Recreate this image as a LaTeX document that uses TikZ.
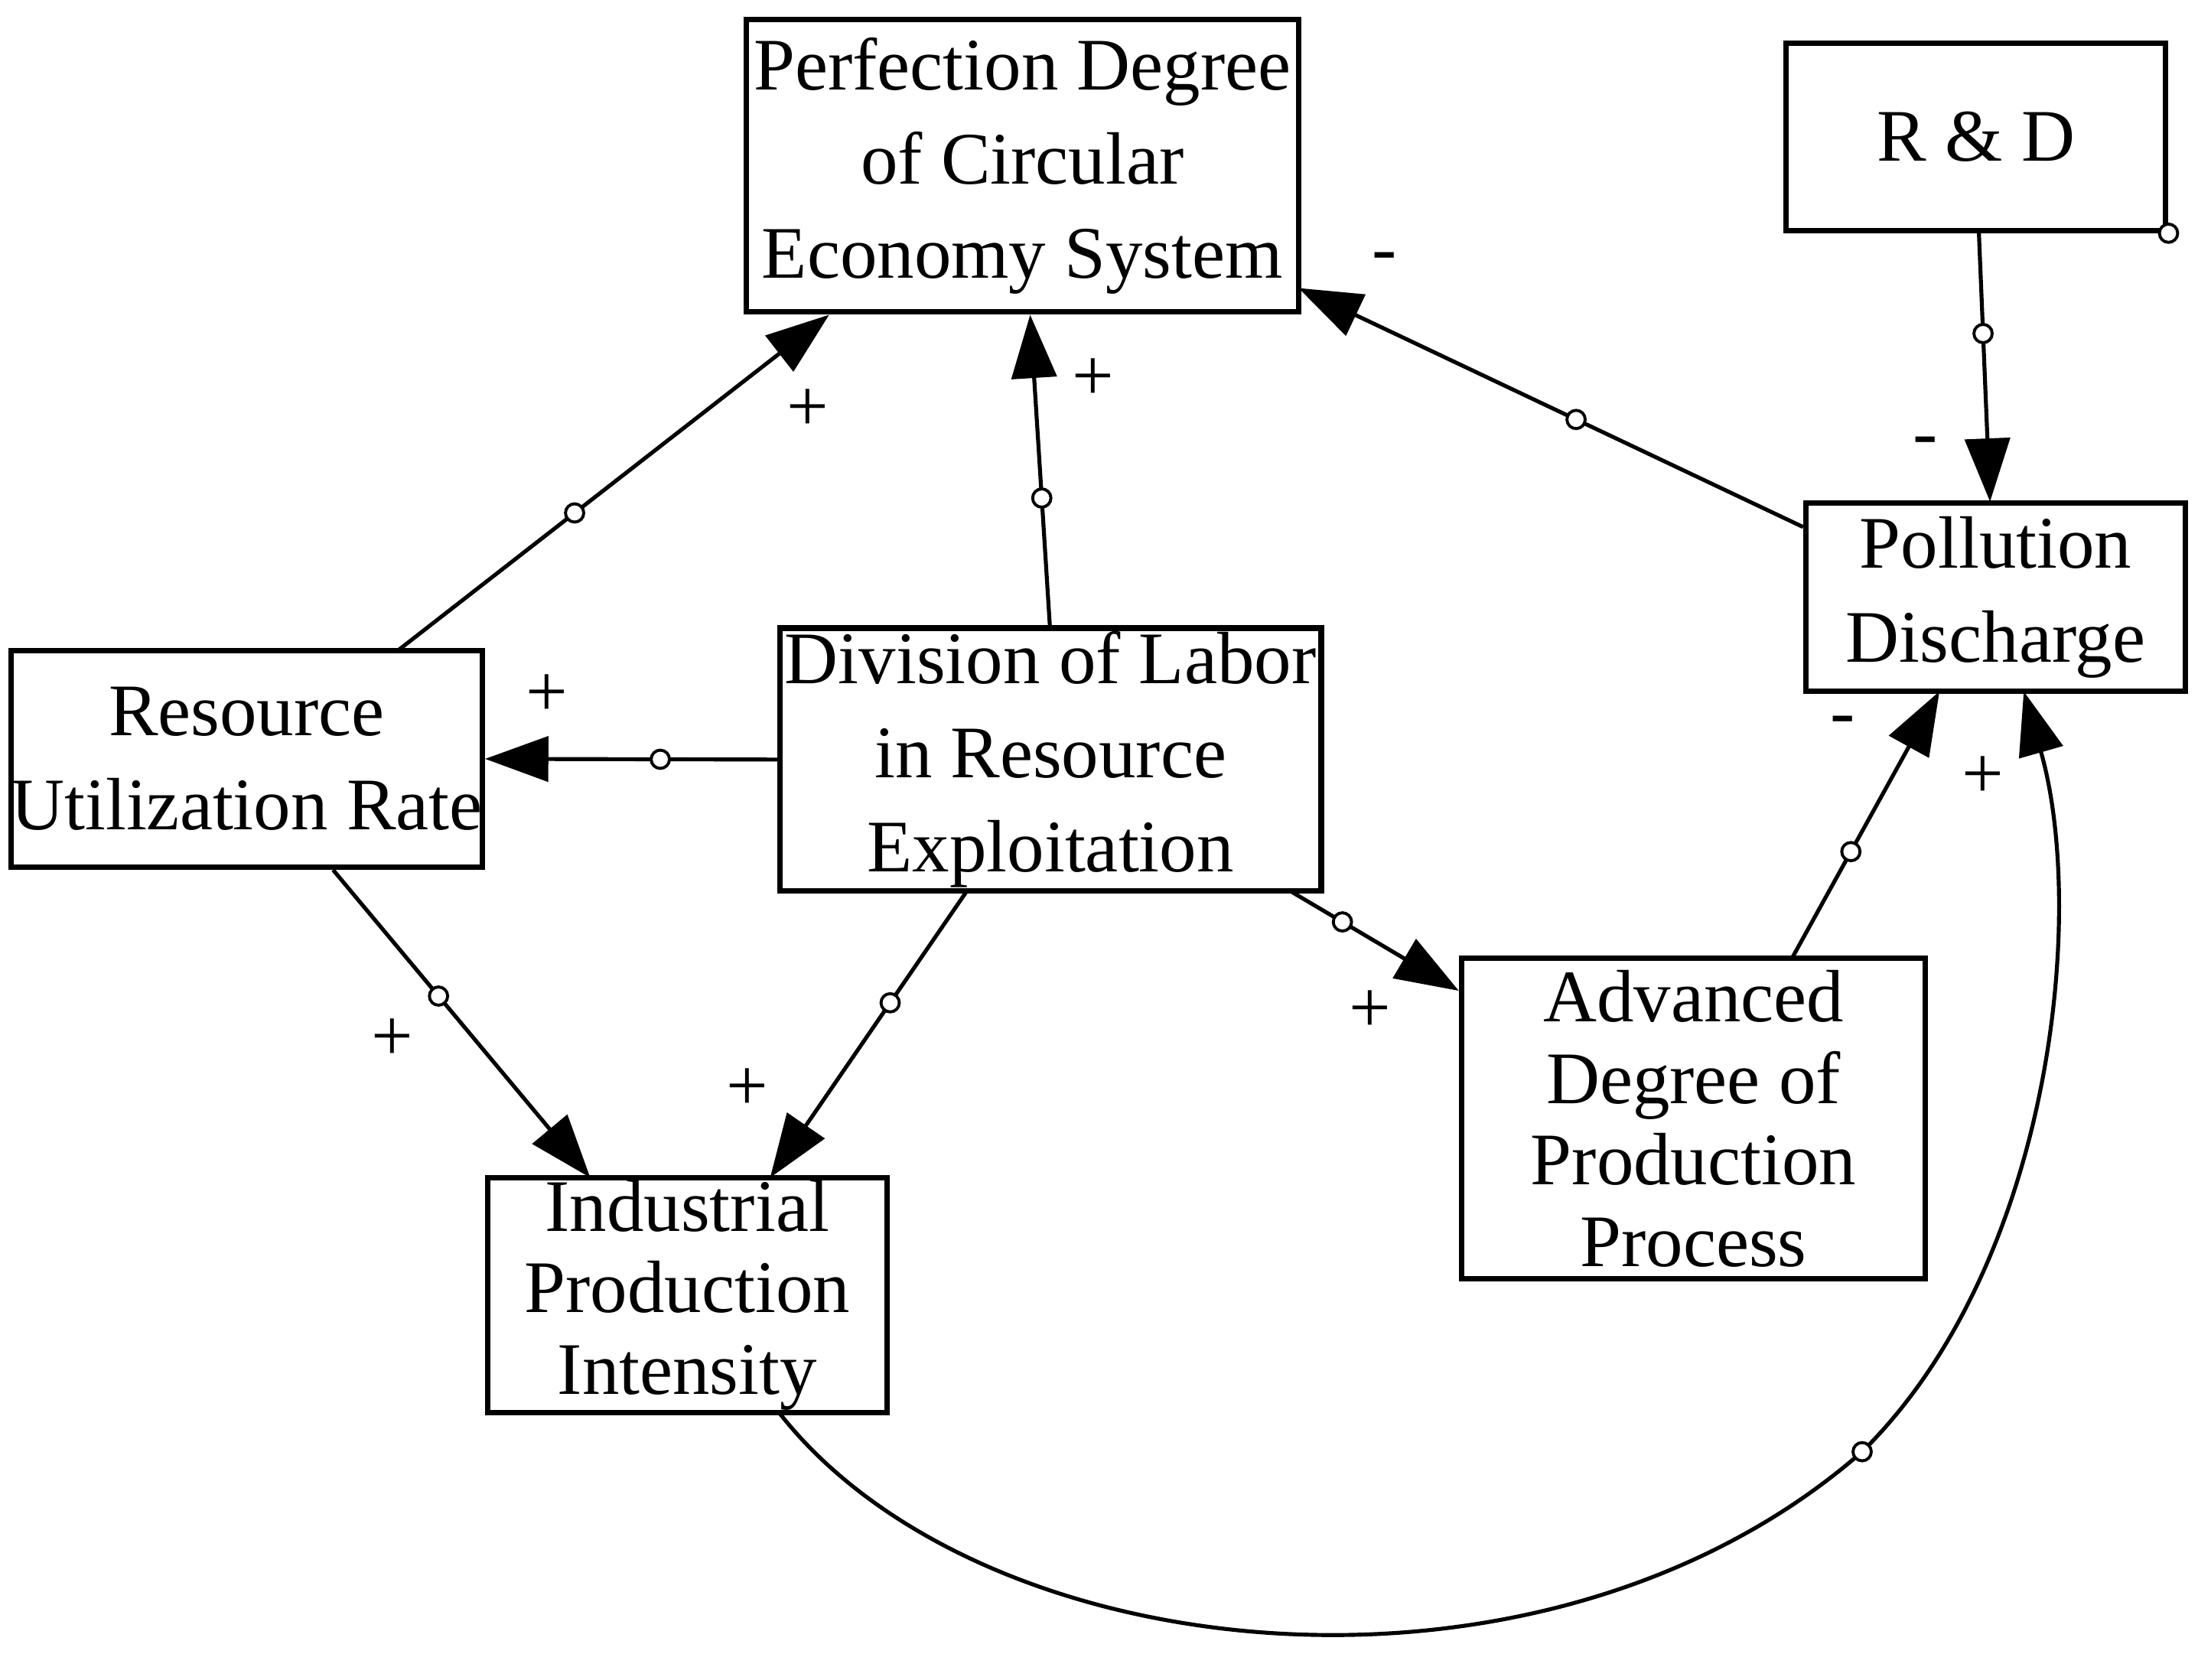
\documentclass[tikz,border=0pt]{standalone}
\usepackage{fontspec}
\setmainfont{Liberation Serif}
\usetikzlibrary{arrows.meta}
\begin{document}
\begin{tikzpicture}[x=0.01cm,y=-0.01cm,
  box/.style={draw,line width=1.1pt,align=center,inner sep=0pt,font=\fontsize{15}{19}\selectfont},
  arr/.style={line width=0.8pt,-{Triangle[length=0.45cm,width=0.32cm]}},
  dot/.style={circle,draw,fill=white,inner sep=0pt,minimum size=0.13cm,line width=0.6pt},
  sgn/.style={font=\fontsize{15}{19}\selectfont}]
\useasboundingbox (0,0) rectangle (1564,1195);
\node[box,minimum width=3.93cm,minimum height=2.08cm] (perf) at (727.5,118) {Perfection Degree\\of Circular\\Economy System};
\node[box,minimum width=2.70cm,minimum height=1.33cm] (rd) at (1406,97.5) {R \& D};
\node[dot] (rdc) at (rd.south east) {};
\node[box,minimum width=2.70cm,minimum height=1.34cm] (pol) at (1420,425) {Pollution\\Discharge};
\node[box,minimum width=3.25cm,minimum height=1.54cm] (res) at (175.5,540) {Resource\\Utilization Rate};
\node[box,minimum width=3.85cm,minimum height=1.87cm] (div) at (747.5,540.5) {Division of Labor\\in Resource\\Exploitation};
\node[box,minimum width=3.30cm,minimum height=2.28cm,font=\fontsize{15}{16.5}\selectfont] (adv) at (1205,796) {Advanced\\Degree of\\Production\\Process};
\node[box,minimum width=2.84cm,minimum height=1.67cm,font=\fontsize{15}{16.5}\selectfont] (ind) at (489,921.5) {Industrial\\Production\\Intensity};
\coordinate (m) at (1325,1033);

\draw[arr] (283,463) -- node[dot,pos=0.41]{} (590,224);
\draw[arr] (div.north -| 747,0) -- node[dot,pos=0.41]{} (733,224);
\draw[arr] (pol.west |- 0,375) -- node[dot,pos=0.45]{} (924,205);
\draw[arr] (1408,164) -- node[dot,pos=0.38]{} (1416,357);
\draw[arr] (div.west) -- node[dot,pos=0.4]{} (res.east);
\draw[arr] (237,619) -- node[dot,pos=0.41]{} (420,838);
\draw[arr] (688,634) -- node[dot,pos=0.39]{} (548,838);
\draw[arr] (918,634) -- node[dot,pos=0.31]{} (adv.west |- 0,705);
\draw[arr] (1275,682) -- node[dot,pos=0.4]{} (1380,492);
\draw[line width=0.8pt] (555,1006) .. controls (700,1190) and (1100,1230) .. (m);
\draw[arr] (m) .. controls (1460,900) and (1485,650) .. (1440,492);
\node[dot] at (m) {};

\node[sgn] at (575,292) {+};
\node[sgn] at (778,270) {+};
\node[sgn] at (985,187) {-};
\node[sgn] at (1370,318) {-};
\node[sgn] at (389,495) {+};
\node[sgn] at (279,740) {+};
\node[sgn] at (532,775) {+};
\node[sgn] at (975,720) {+};
\node[sgn] at (1311,517) {-};
\node[sgn] at (1411,553) {+};
\end{tikzpicture}
\end{document}
